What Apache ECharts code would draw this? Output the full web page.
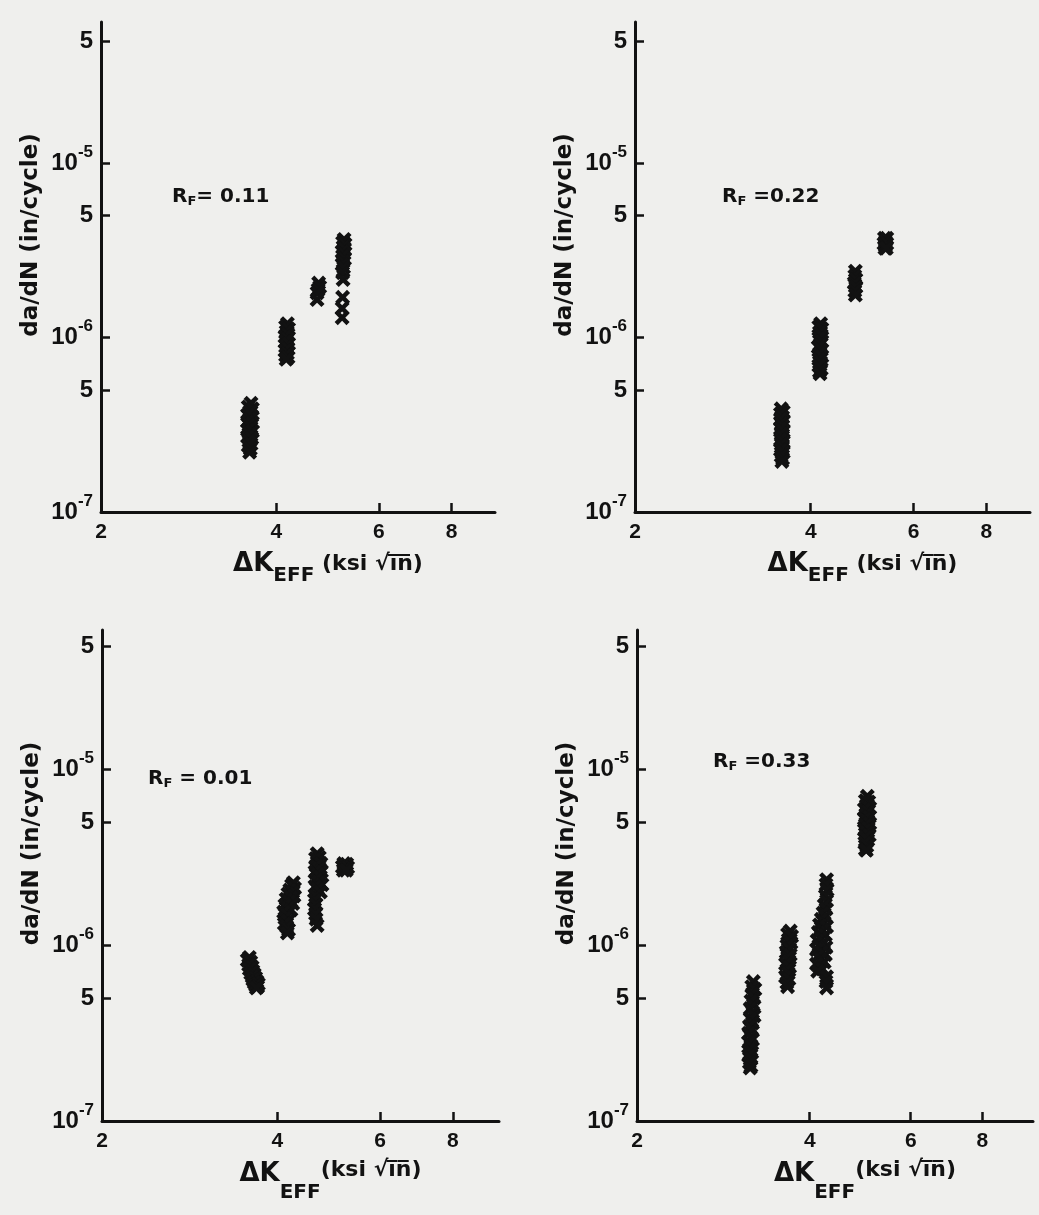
<!DOCTYPE html>
<html>
<head>
<meta charset="utf-8">
<script src="https://cdn.jsdelivr.net/npm/echarts@6/dist/echarts.min.js"></script>
<style>
html,body{margin:0;padding:0;background:#efefed;}
#chart{width:1039px;height:1215px;}
</style>
</head>
<body>
<div id="chart"></div>
<script>
// ---------- tick values ----------
const DK_TICKS = [2, 4, 6, 8];
const DADN_TICKS = [1e-7, 5e-7, 1e-6, 5e-6, 1e-5, 5e-5];

// ---------- panel labels ----------
const RF_TEXTS = ['= 0.11', ' =0.22', ' = 0.01', ' =0.33'];
const X_NAMES = [' (ksi √i\u0305n\u0305)', ' (ksi √i\u0305n\u0305)', '(ksi √i\u0305n\u0305)', '(ksi √i\u0305n\u0305)'];

// ---------- data: R_F = 0.11 ----------
const rf011_dk = [
  3.62, 3.58, 3.64, 3.60, 3.57, 3.63, 3.60, 3.57, 3.64, 3.59, 3.62, 3.57, 3.64, 3.60, 3.57, 3.63, 3.59, 3.62, 3.58, 3.61, 3.60,
  4.18, 4.15, 4.20, 4.16, 4.19, 4.14, 4.18, 4.15, 4.20, 4.16, 4.19, 4.14, 4.18, 4.15, 4.19, 4.16,
  4.73, 4.75, 4.72, 4.70, 4.70,
  5.23, 5.20, 5.25, 5.21, 5.24, 5.19, 5.23, 5.20, 5.24, 5.21, 5.19, 5.22, 5.20, 5.21, 5.20, 5.19, 5.19
];
const rf011_dadn = [
  4.2e-7, 4.0e-7, 3.9e-7, 3.75e-7, 3.6e-7, 3.55e-7, 3.4e-7, 3.3e-7, 3.25e-7, 3.15e-7, 3.05e-7, 2.95e-7, 2.9e-7, 2.8e-7, 2.7e-7, 2.65e-7, 2.55e-7, 2.45e-7, 2.4e-7, 2.3e-7, 2.2e-7,
  1.2e-6, 1.15e-6, 1.12e-6, 1.08e-6, 1.04e-6, 1.01e-6, 9.8e-7, 9.5e-7, 9.2e-7, 8.9e-7, 8.6e-7, 8.4e-7, 8.1e-7, 7.9e-7, 7.7e-7, 7.5e-7,
  2.05e-6, 1.95e-6, 1.88e-6, 1.8e-6, 1.65e-6,
  3.65e-6, 3.5e-6, 3.42e-6, 3.3e-6, 3.2e-6, 3.1e-6, 3.02e-6, 2.92e-6, 2.82e-6, 2.72e-6, 2.62e-6, 2.52e-6, 2.35e-6, 2.15e-6, 1.7e-6, 1.47e-6, 1.3e-6
];

// ---------- data: R_F = 0.22 ----------
const rf022_dk = [
  3.56, 3.59, 3.55, 3.58, 3.55, 3.59, 3.56, 3.58, 3.55, 3.59, 3.56, 3.58, 3.55, 3.59, 3.56, 3.58, 3.55, 3.59, 3.56, 3.58, 3.57,
  4.16, 4.13, 4.18, 4.14, 4.17, 4.13, 4.18, 4.15, 4.12, 4.17, 4.14, 4.18, 4.13, 4.16, 4.13, 4.17, 4.14, 4.15,
  4.77, 4.76, 4.78, 4.75, 4.78, 4.76, 4.77,
  5.35, 5.40, 5.37, 5.34, 5.40, 5.37, 5.36, 5.39
];
const rf022_dadn = [
  3.9e-7, 3.75e-7, 3.65e-7, 3.5e-7, 3.4e-7, 3.3e-7, 3.2e-7, 3.1e-7, 3.0e-7, 2.9e-7, 2.8e-7, 2.7e-7, 2.6e-7, 2.52e-7, 2.44e-7, 2.35e-7, 2.27e-7, 2.2e-7, 2.1e-7, 2.02e-7, 1.95e-7,
  1.2e-6, 1.15e-6, 1.12e-6, 1.07e-6, 1.03e-6, 9.9e-7, 9.5e-7, 9.1e-7, 8.8e-7, 8.5e-7, 8.1e-7, 7.8e-7, 7.5e-7, 7.2e-7, 6.9e-7, 6.6e-7, 6.4e-7, 6.2e-7,
  2.4e-6, 2.25e-6, 2.15e-6, 2.05e-6, 1.95e-6, 1.85e-6, 1.75e-6,
  3.7e-6, 3.7e-6, 3.55e-6, 3.45e-6, 3.45e-6, 3.35e-6, 3.25e-6, 3.25e-6
];

// ---------- data: R_F = 0.01 ----------
const rf001_dk = [
  3.58, 3.55, 3.60, 3.57, 3.62, 3.58, 3.63, 3.60, 3.65, 3.62, 3.67, 3.63, 3.69, 3.65, 3.71, 3.67, 3.70, 3.68,
  4.26, 4.23, 4.28, 4.20, 4.25, 4.17, 4.27, 4.22, 4.14, 4.19, 4.25, 4.12, 4.17, 4.22, 4.10, 4.15, 4.12, 4.17, 4.11, 4.15, 4.18, 4.16,
  4.68, 4.72, 4.65, 4.70, 4.75, 4.66, 4.72, 4.76, 4.64, 4.69, 4.74, 4.66, 4.71, 4.77, 4.64, 4.69, 4.74, 4.65, 4.63, 4.66, 4.63, 4.65, 4.66, 4.68,
  5.20, 5.26, 5.23, 5.17, 5.28, 5.22, 5.19, 5.25
];
const rf001_dadn = [
  8.5e-7, 8.2e-7, 8.0e-7, 7.7e-7, 7.5e-7, 7.3e-7, 7.1e-7, 6.9e-7, 6.8e-7, 6.6e-7, 6.5e-7, 6.35e-7, 6.2e-7, 6.1e-7, 6.0e-7, 5.9e-7, 5.8e-7, 5.7e-7,
  2.26e-6, 2.18e-6, 2.1e-6, 2.05e-6, 2.0e-6, 1.95e-6, 1.9e-6, 1.86e-6, 1.82e-6, 1.76e-6, 1.72e-6, 1.68e-6, 1.62e-6, 1.58e-6, 1.54e-6, 1.48e-6, 1.42e-6, 1.37e-6, 1.32e-6, 1.27e-6, 1.22e-6, 1.17e-6,
  3.3e-6, 3.15e-6, 3.1e-6, 2.98e-6, 2.9e-6, 2.82e-6, 2.72e-6, 2.62e-6, 2.6e-6, 2.52e-6, 2.44e-6, 2.36e-6, 2.28e-6, 2.2e-6, 2.15e-6, 2.08e-6, 2.0e-6, 1.9e-6, 1.8e-6, 1.7e-6, 1.6e-6, 1.5e-6, 1.4e-6, 1.29e-6,
  2.9e-6, 2.88e-6, 2.8e-6, 2.78e-6, 2.76e-6, 2.7e-6, 2.66e-6, 2.66e-6
];

// ---------- data: R_F = 0.33 ----------
const rf033_dk = [
  3.19, 3.17, 3.21, 3.18, 3.20, 3.16, 3.19, 3.15, 3.18, 3.20, 3.15, 3.18, 3.14, 3.17, 3.13, 3.16, 3.18, 3.13, 3.16, 3.14, 3.17, 3.13, 3.16, 3.14, 3.16, 3.15,
  3.70, 3.66, 3.72, 3.67, 3.71, 3.65, 3.69, 3.64, 3.70, 3.66, 3.68, 3.63, 3.69, 3.65, 3.67, 3.63, 3.68, 3.65, 3.66,
  4.28, 4.27, 4.29, 4.26, 4.28, 4.24, 4.27, 4.22, 4.26, 4.19, 4.24, 4.16, 4.28, 4.21, 4.14, 4.26, 4.18, 4.12, 4.23, 4.15, 4.27, 4.11, 4.20, 4.26, 4.13, 4.18, 4.24, 4.11, 4.16, 4.21, 4.13, 4.28, 4.27, 4.28,
  5.04, 5.00, 5.07, 5.02, 5.09, 4.98, 5.05, 5.01, 5.08, 4.98, 5.04, 5.09, 5.00, 5.06, 4.98, 5.03, 5.08, 5.00, 5.05, 4.99, 5.03, 5.00, 5.02
];
const rf033_dadn = [
  6.2e-7, 5.8e-7, 5.6e-7, 5.3e-7, 5.0e-7, 4.8e-7, 4.55e-7, 4.35e-7, 4.15e-7, 3.95e-7, 3.8e-7, 3.6e-7, 3.45e-7, 3.3e-7, 3.15e-7, 3.0e-7, 2.9e-7, 2.8e-7, 2.65e-7, 2.55e-7, 2.45e-7, 2.35e-7, 2.25e-7, 2.15e-7, 2.05e-7, 2.0e-7,
  1.2e-6, 1.15e-6, 1.12e-6, 1.07e-6, 1.03e-6, 9.9e-7, 9.5e-7, 9.1e-7, 8.8e-7, 8.5e-7, 8.1e-7, 7.8e-7, 7.5e-7, 7.2e-7, 6.9e-7, 6.6e-7, 6.4e-7, 6.1e-7, 5.8e-7,
  2.35e-6, 2.2e-6, 2.05e-6, 1.9e-6, 1.78e-6, 1.68e-6, 1.6e-6, 1.52e-6, 1.45e-6, 1.4e-6, 1.34e-6, 1.3e-6, 1.27e-6, 1.22e-6, 1.18e-6, 1.14e-6, 1.1e-6, 1.06e-6, 1.03e-6, 9.9e-7, 9.7e-7, 9.4e-7, 9.1e-7, 8.8e-7, 8.6e-7, 8.3e-7, 8.0e-7, 7.8e-7, 7.5e-7, 7.3e-7, 7.1e-7, 6.6e-7, 6.2e-7, 5.7e-7,
  7.0e-6, 6.6e-6, 6.5e-6, 6.2e-6, 6.0e-6, 5.9e-6, 5.7e-6, 5.5e-6, 5.35e-6, 5.2e-6, 5.05e-6, 4.9e-6, 4.8e-6, 4.6e-6, 4.5e-6, 4.35e-6, 4.2e-6, 4.1e-6, 3.95e-6, 3.8e-6, 3.65e-6, 3.5e-6, 3.45e-6
];

const PANEL_DATA = [
  { name: 'R_F = 0.11', dk: rf011_dk, dadn: rf011_dadn },
  { name: 'R_F = 0.22', dk: rf022_dk, dadn: rf022_dadn },
  { name: 'R_F = 0.01', dk: rf001_dk, dadn: rf001_dadn },
  { name: 'R_F = 0.33', dk: rf033_dk, dadn: rf033_dadn }
];

// ---------- layout (pixels) ----------
const LAYOUT = [
  { left: 101, top: 22, width: 394, height: 490, xMax: 9.5, yMax: 6.43e-5, rf: [172, 187], gap: 30, subPad: 24, upPad: 0 },
  { left: 635, top: 22, width: 395, height: 490, xMax: 9.5, yMax: 6.43e-5, rf: [722, 187], gap: 30, subPad: 24, upPad: 0 },
  { left: 102, top: 630, width: 397, height: 491, xMax: 9.6, yMax: 6.16e-5, rf: [148, 769], gap: 24, subPad: 38, upPad: 8 },
  { left: 637, top: 630, width: 396, height: 491, xMax: 9.8, yMax: 6.16e-5, rf: [713, 752], gap: 24, subPad: 38, upPad: 8 }
];

const INK = '#121212';
const X_SYMBOL = 'path://M0,2.1L2.1,0L5,2.9L7.9,0L10,2.1L7.1,5L10,7.9L7.9,10L5,7.1L2.1,10L0,7.9L2.9,5Z';

function yLabel(v) {
  const val = v < 0 ? Math.pow(10, v) : v;
  const e = Math.log10(val);
  const r = Math.round(e);
  if (Math.abs(e - r) < 1e-6) return '{b|10}{s|' + r + '}';
  return '{b|' + Math.round(val / Math.pow(10, Math.floor(e))) + '}';
}
function xLabel(v) {
  const val = v < 1.5 ? Math.pow(10, v) : v;
  return String(Math.round(val));
}

const grids = [], xAxes = [], yAxes = [], series = [], graphics = [];
LAYOUT.forEach((L, i) => {
  grids.push({ left: L.left, top: L.top, width: L.width, height: L.height, outerBoundsMode: 'none', containLabel: false });
  xAxes.push({
    type: 'log', logBase: 10, gridIndex: i, min: 2, max: L.xMax,
    axisLine: { show: true, onZero: false, lineStyle: { color: INK, width: 3 } },
    axisTick: { show: true, inside: true, length: 9, customValues: DK_TICKS, lineStyle: { color: INK, width: 2.5 } },
    axisLabel: { show: true, customValues: DK_TICKS, formatter: xLabel, margin: 10, color: INK,
      fontFamily: 'Liberation Sans', fontWeight: 'bold', fontSize: 21 },
    minorTick: { show: false }, splitLine: { show: false },
    name: '{d|ΔK}{e|EFF}{u|' + X_NAMES[i] + '}',
    nameLocation: 'middle', nameGap: L.gap,
    nameTextStyle: {
      padding: [0, 0, 0, 60],
      rich: {
        d: { fontFamily: 'DejaVu Sans', fontWeight: 'bold', fontSize: 26, color: INK },
        e: { fontFamily: 'DejaVu Sans', fontWeight: 'bold', fontSize: 20, color: INK, padding: [L.subPad, 0, 0, 0] },
        u: { fontFamily: 'DejaVu Sans', fontWeight: 'bold', fontSize: 22, color: INK, padding: [0, 0, L.upPad, 0] }
      }
    }
  });
  yAxes.push({
    type: 'log', logBase: 10, gridIndex: i, min: 1e-7, max: L.yMax,
    axisLine: { show: true, onZero: false, lineStyle: { color: INK, width: 3 } },
    axisTick: { show: true, inside: true, length: 9, customValues: DADN_TICKS, lineStyle: { color: INK, width: 2.5 } },
    axisLabel: { show: true, customValues: DADN_TICKS, formatter: yLabel, margin: 8, color: INK,
      rich: {
        b: { fontFamily: 'Liberation Sans', fontWeight: 'bold', fontSize: 24, color: INK },
        s: { fontFamily: 'Liberation Sans', fontWeight: 'bold', fontSize: 17, color: INK, padding: [0, 0, 22, 0] }
      }
    },
    minorTick: { show: false }, splitLine: { show: false },
    name: 'da/dN (in/cycle)', nameLocation: 'middle', nameRotate: 90, nameGap: 58,
    nameTextStyle: { fontFamily: 'DejaVu Sans', fontWeight: 'bold', fontSize: 23, color: INK, padding: [0, 0, 0, 64] }
  });
  const P = PANEL_DATA[i];
  series.push({
    name: P.name, type: 'scatter', xAxisIndex: i, yAxisIndex: i,
    symbol: X_SYMBOL, symbolSize: [15, 15],
    itemStyle: { color: INK, opacity: 1 },
    data: P.dk.map((x, k) => [x, P.dadn[k]]),
    silent: true, animation: false
  });
  graphics.push({
    type: 'text', left: L.rf[0], top: L.rf[1],
    style: {
      text: '{r|R}{f|F}{r|' + RF_TEXTS[i] + '}',
      rich: {
        r: { fontFamily: 'DejaVu Sans', fontWeight: 'bold', fontSize: 20, fill: INK },
        f: { fontFamily: 'DejaVu Sans', fontWeight: 'bold', fontSize: 13, fill: INK, padding: [10, 0, 0, 0] }
      },
      fill: INK
    }
  });
});

const chart = echarts.init(document.getElementById('chart'), null, { renderer: 'canvas' });
chart.setOption({
  backgroundColor: '#efefed',
  animation: false,
  grid: grids,
  xAxis: xAxes,
  yAxis: yAxes,
  series: series,
  graphic: graphics
});
</script>
</body>
</html>
